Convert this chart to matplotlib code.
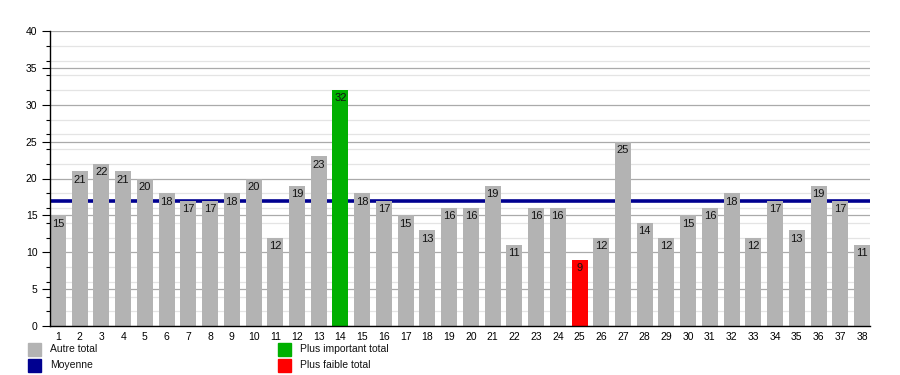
import numpy as np
import matplotlib
matplotlib.use("Agg")
import matplotlib.pyplot as plt
from matplotlib.patches import Rectangle
from matplotlib.ticker import MultipleLocator

plt.rcParams['font.family'] = ['Liberation Sans', 'DejaVu Sans']

categories = list(range(1, 39))
values = [15, 21, 22, 21, 20, 18, 17, 17, 18, 20, 12, 19, 23, 32, 18, 17, 15, 13, 16,
          16, 19, 11, 16, 16, 9, 12, 25, 14, 12, 15, 16, 18, 12, 17, 13, 19, 17, 11]
legend_labels = ["Autre total", "Moyenne", "Plus important total", "Plus faible total"]

grey = "#b3b3b3"
green = "#00b000"
red = "#ff0000"
navy = "#000090"

vmax = max(values)
vmin = min(values)
colors = []
for v in values:
    if v == vmax:
        colors.append(green)
    elif v == vmin:
        colors.append(red)
    else:
        colors.append(grey)
mean = np.mean(values)

fig = plt.figure(figsize=(9, 3.75), dpi=100)
ax = fig.add_axes([50 / 900, 1 - 326 / 375, 820 / 900, 295 / 375])

# mean line sits behind the bars
ax.axhline(mean, color=navy, linewidth=2.6, zorder=1.5)
ax.bar(categories, values, width=0.736, color=colors, zorder=2)

for x, v in zip(categories, values):
    ax.annotate(str(v), (x, v), xytext=(0, -2.5), textcoords="offset points",
                ha="center", va="top", fontsize=8, color="#111111", zorder=4)

ax.set_xlim(1 - 0.368, 38 + 0.368)
ax.set_ylim(0, 40)
ax.yaxis.set_major_locator(MultipleLocator(5))
ax.yaxis.set_minor_locator(MultipleLocator(2))
ax.grid(which="major", axis="y", color="#aaaaaa", linewidth=0.9, zorder=0)
ax.grid(which="minor", axis="y", color="#e4e4e4", linewidth=0.9, zorder=0)
ax.set_axisbelow(True)

ax.set_xticks(categories)
ax.set_xticklabels([str(c) for c in categories])
ax.tick_params(axis="x", length=0, pad=4, labelsize=7.5)
ax.tick_params(axis="y", which="major", length=6, width=0.8, labelsize=7.5, pad=3)
ax.tick_params(axis="y", which="minor", length=3, width=0.8)

for s in ["top", "right"]:
    ax.spines[s].set_visible(False)
ax.spines["left"].set_linewidth(1)
ax.spines["bottom"].set_linewidth(1)
ax.spines["left"].set_zorder(5)
ax.spines["bottom"].set_zorder(5)

# legend, drawn by hand in figure pixels
legend_colors = [grey, navy, green, red]
legend_pos = [(28, 343), (28, 359), (278, 343), (278, 359)]
for lab, col, (px, py) in zip(legend_labels, legend_colors, legend_pos):
    fig.add_artist(Rectangle((px / 900, 1 - (py + 12.5) / 375), 13 / 900, 12.5 / 375,
                             transform=fig.transFigure, color=col))
    fig.text((px + 22) / 900, 1 - (py + 6.5) / 375, lab, fontsize=7.5,
             va="center", ha="left", color="#111111")

fig.savefig("out.png", dpi=100)
